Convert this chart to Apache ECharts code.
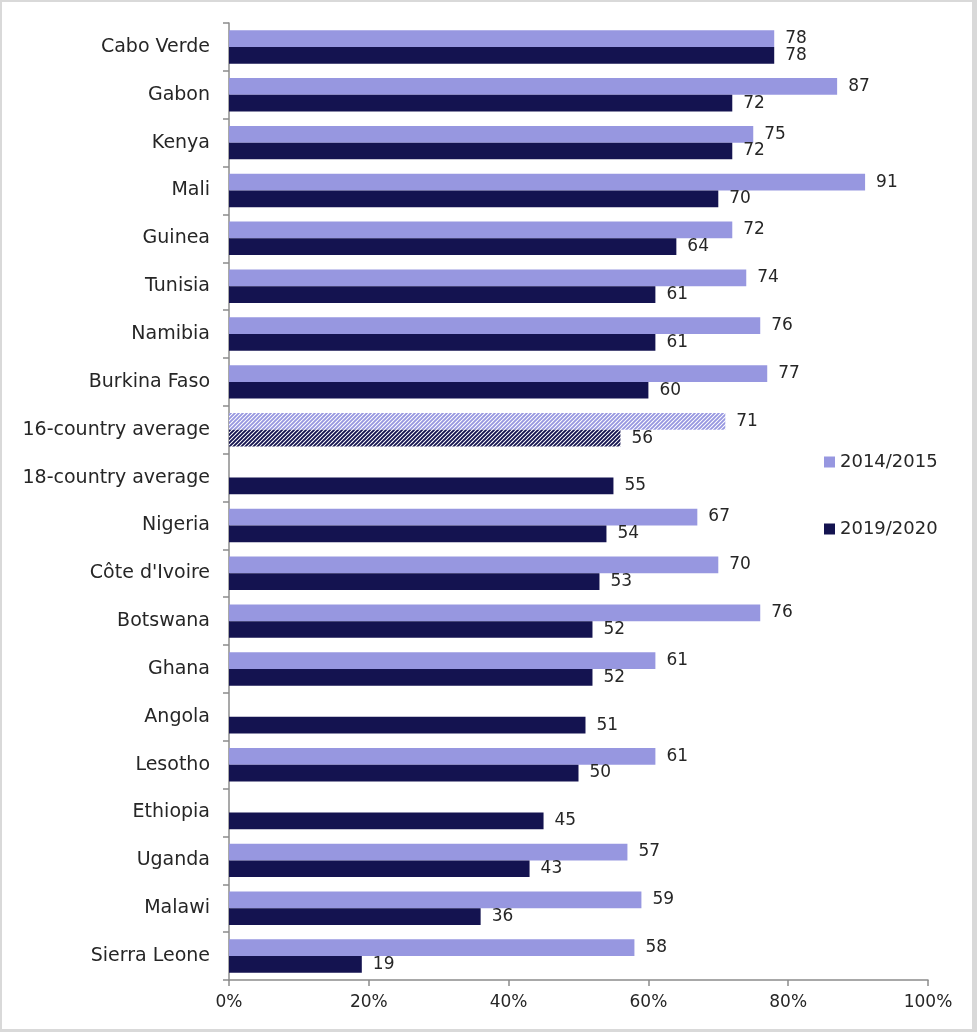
<!DOCTYPE html>
<html>
<head>
<meta charset="utf-8">
<script src="https://cdn.jsdelivr.net/npm/echarts@6/dist/echarts.min.js"></script>
<style>
  html, body { margin: 0; padding: 0; background: #fff; }
  #chart { position: absolute; left: 0; top: 0; width: 977px; height: 1032px; }
  #frame {
    position: absolute; left: 0; top: 0; width: 977px; height: 1032px;
    box-sizing: border-box; pointer-events: none;
    border-style: solid; border-color: #d9d9d9;
    border-width: 2px 5px 3px 2px;
  }
</style>
</head>
<body>
<div id="chart"></div>
<div id="frame"></div>
<script>
const countries = [
  'Cabo Verde', 'Gabon', 'Kenya', 'Mali', 'Guinea', 'Tunisia', 'Namibia',
  'Burkina Faso', '16-country average', '18-country average', 'Nigeria',
  "Côte d'Ivoire", 'Botswana', 'Ghana', 'Angola', 'Lesotho', 'Ethiopia',
  'Uganda', 'Malawi', 'Sierra Leone'
];
const round2014 = [78, 87, 75, 91, 72, 74, 76, 77, 71, null, 67, 70, 76, 61, null, 61, null, 57, 59, 58];
const round2019 = [78, 72, 72, 70, 64, 61, 61, 60, 56, 55, 54, 53, 52, 52, 51, 50, 45, 43, 36, 19];
const xTicks = [0, 20, 40, 60, 80, 100];

const lightColor = '#9797e0';
const darkColor = '#141350';
const textColor = '#262626';
const fontName = 'DejaVu Sans';

// diagonal hatch used for the 16-country average bars
function hatch(color) {
  const c = document.createElement('canvas');
  c.width = 4;
  c.height = 4;
  const ctx = c.getContext('2d');
  ctx.fillStyle = '#fff';
  ctx.fillRect(0, 0, 4, 4);
  ctx.strokeStyle = color;
  ctx.lineWidth = 1.9;
  ctx.beginPath();
  ctx.moveTo(-1, 5); ctx.lineTo(5, -1);
  ctx.moveTo(-1, 1); ctx.lineTo(1, -1);
  ctx.moveTo(3, 5); ctx.lineTo(5, 3);
  ctx.stroke();
  return { image: c, repeat: 'repeat' };
}

function barData(values, color) {
  return values.map((v, i) => {
    if (countries[i] === '16-country average') {
      return { value: v, itemStyle: { color: hatch(color) } };
    }
    return v;
  });
}

const myChart = echarts.init(document.getElementById('chart'));

const barLabel = {
  show: true,
  position: 'right',
  distance: 11,
  fontFamily: fontName,
  fontSize: 17,
  color: textColor,
  formatter: (p) => (p.value == null ? '' : String(p.value))
};

const option = {
  animation: false,
  textStyle: { fontFamily: fontName },
  legend: {
    orient: 'vertical',
    left: 824,
    top: 453,
    padding: 0,
    itemWidth: 11,
    itemHeight: 11,
    itemGap: 49,
    icon: 'rect',
    textStyle: { fontFamily: fontName, fontSize: 18, color: textColor },
    data: ['2014/2015', '2019/2020']
  },
  grid: {
    left: 229,
    right: 49,
    top: 23,
    bottom: 52,
    containLabel: false
  },
  xAxis: {
    type: 'value',
    min: 0,
    max: 100,
    interval: 20,
    axisLine: { show: true, lineStyle: { color: '#8c8c8c', width: 1.5 } },
    axisTick: { show: true, length: 6, lineStyle: { color: '#8c8c8c', width: 1.5 } },
    splitLine: { show: false },
    axisLabel: {
      margin: 14,
      fontFamily: fontName,
      fontSize: 17,
      color: textColor,
      formatter: (v) => (xTicks.includes(v) ? v + '%' : '')
    }
  },
  yAxis: {
    type: 'category',
    inverse: true,
    data: countries,
    axisLine: { show: true, lineStyle: { color: '#8c8c8c', width: 1.5 } },
    axisTick: { show: true, length: 6, lineStyle: { color: '#8c8c8c', width: 1.5 } },
    axisLabel: {
      margin: 19,
      fontFamily: fontName,
      fontSize: 19,
      color: textColor
    }
  },
  series: [
    {
      name: '2014/2015',
      type: 'bar',
      data: barData(round2014, lightColor),
      itemStyle: { color: lightColor },
      barGap: '0%',
      barCategoryGap: '30%',
      label: barLabel
    },
    {
      name: '2019/2020',
      type: 'bar',
      data: barData(round2019, darkColor),
      itemStyle: { color: darkColor },
      barGap: '0%',
      barCategoryGap: '30%',
      label: barLabel
    }
  ]
};

myChart.setOption(option);
</script>
</body>
</html>
